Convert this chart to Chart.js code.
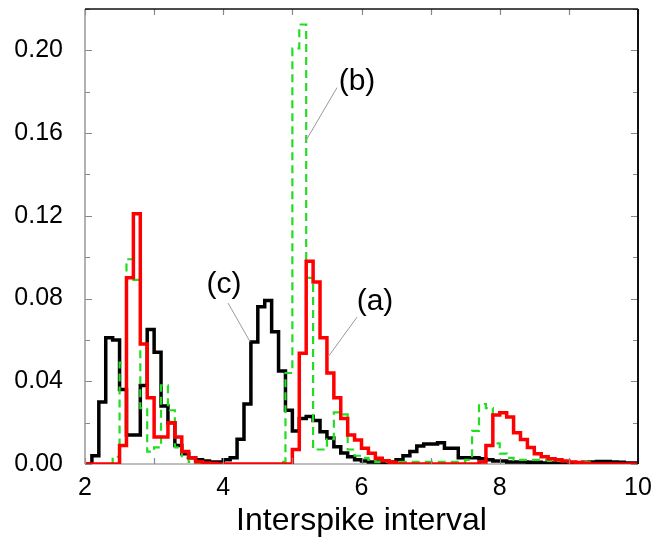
<!DOCTYPE html>
<html>
<head>
<meta charset="utf-8">
<script src="https://cdn.jsdelivr.net/npm/chart.js@4"></script>
<style>
	html, body { margin: 0; padding: 0; background: #fff; }
	#wrap { width: 667px; height: 542px; }
</style>
</head>
<body>
<div id="wrap"><canvas id="isiChart" width="667" height="542"></canvas></div>
<script>
	// histogram bins: lower edges from 2.0 to 9.9, width 0.1
	const binStart = 2.0;
	const binWidth = 0.1;

	// (c) black
	const seriesC = [
		0, 0.004, 0.030, 0.061, 0.060, 0.036, 0.014, 0.014, 0.038, 0.065,
		0.054, 0.028, 0.020, 0.009, 0.005, 0.003, 0.002, 0.0015, 0.001, 0.001,
		0.002, 0.003, 0.012, 0.029, 0.059, 0.076, 0.079, 0.064, 0.045, 0.026,
		0.016, 0.022, 0.023, 0.021, 0.0156, 0.0126, 0.0084, 0.0053, 0.0035, 0.002,
		0.0015, 0.001, 0.001, 0.0008, 0.001, 0.002, 0.004, 0.006, 0.0087, 0.0097,
		0.0097, 0.0103, 0.0076, 0.0076, 0.003, 0.003, 0.003, 0.0025, 0.002, 0.0015,
		0.0015, 0.001, 0.001, 0.001, 0.0008, 0.0008, 0.0005, 0.0005, 0.0005, 0.0005,
		0.0005, 0.0005, 0.0008, 0.001, 0.0012, 0.0012, 0.001, 0.0008, 0.0005, 0.0005
	];

	// (a) red
	const seriesA = [
		0, 0, 0, 0, 0, 0.009, 0.090, 0.121, 0.058, 0.032,
		0.013, 0.013, 0.020, 0.013, 0.006, 0.003, 0.0011, 0.0005, 0.0003, 0,
		0, 0, 0, 0, 0, 0, 0, 0, 0, 0,
		0.007, 0.0535, 0.098, 0.088, 0.061, 0.044, 0.032, 0.022, 0.014, 0.0116,
		0.0076, 0.0052, 0.0028, 0.0016, 0.0008, 0, 0, 0, 0, 0,
		0, 0, 0, 0, 0, 0, 0, 0.001, 0.009, 0.0237,
		0.0248, 0.0227, 0.0151, 0.0119, 0.008, 0.005, 0.0035, 0.0025, 0.002, 0.0015,
		0.001, 0.0007, 0.0004, 0, 0, 0, 0, 0, 0, 0
	];

	// (b) green dashed
	const seriesB = [
		0, 0, 0, 0, 0.0035, 0.049, 0.099, 0.089, 0.027, 0.006,
		0.008, 0.038, 0.026, 0.008, 0.003, 0.001, 0.0005, 0, 0, 0,
		0, 0, 0, 0, 0, 0, 0, 0, 0.001, 0.044,
		0.201, 0.2125, 0.090, 0.007, 0.007, 0.012, 0.025, 0.024, 0.007, 0.004,
		0.003, 0.002, 0.001, 0.001, 0.001, 0.001, 0.001, 0.001, 0.001, 0.001,
		0.001, 0.001, 0.001, 0.001, 0.001, 0.002, 0.016, 0.029, 0.027, 0.010,
		0.005, 0.003, 0.002, 0.002, 0.002, 0.002, 0.002, 0.0015, 0.0015, 0.0015,
		0.001, 0.001, 0.001, 0, 0, 0, 0, 0, 0, 0
	];

	const xTickLabels = ['2', '4', '6', '8', '10'];
	const yTickLabels = ['0.00', '0.04', '0.08', '0.12', '0.16', '0.20'];

	const annotations = [
		{ text: '(c)', x: 4.01, y: 0.0865, from: [4.07, 0.0778], to: [4.39, 0.059] },
		{ text: '(a)', x: 6.195, y: 0.0783, from: [5.935, 0.071], to: [5.515, 0.0517] },
		{ text: '(b)', x: 5.935, y: 0.185, from: [5.646, 0.182], to: [5.183, 0.1556] }
	];

	function toSteps(values) {
		const points = values.map((v, i) => ({ x: +(binStart + i * binWidth).toFixed(1), y: v }));
		points.push({ x: +(binStart + values.length * binWidth).toFixed(1), y: values[values.length - 1] });
		return points;
	}

	const fontFamily = '"Liberation Sans", Arial, Helvetica, sans-serif';

	const framePlugin = {
		id: 'frame',
		beforeDatasetsDraw(chart) {
			const { ctx, chartArea: a } = chart;
			ctx.save();
			ctx.strokeStyle = '#aaa';
			ctx.lineWidth = 1.5;
			ctx.beginPath();
			ctx.moveTo(a.left, a.bottom); ctx.lineTo(a.right, a.bottom);
			ctx.stroke();
			ctx.restore();
		},
		afterDatasetsDraw(chart) {
			const { ctx, chartArea: a, scales } = chart;
			ctx.save();
			// inward ticks
			ctx.strokeStyle = '#888';
			ctx.lineWidth = 1.2;
			for (let v = 0; v <= 0.2201; v += 0.02) {
				const py = Math.round(scales.y.getPixelForValue(v)) + 0.5;
				const major = Math.round(v * 100) % 4 === 0;
				const len = major ? 7 : 5;
				ctx.beginPath();
				ctx.moveTo(a.left, py); ctx.lineTo(a.left + len, py);
				ctx.moveTo(a.right, py); ctx.lineTo(a.right - len, py);
				ctx.stroke();
			}
			for (let v = 2; v <= 10; v += 1) {
				const px = Math.round(scales.x.getPixelForValue(v)) + 0.5;
				ctx.beginPath();
				ctx.moveTo(px, a.top); ctx.lineTo(px, a.top + 6);
				ctx.moveTo(px, a.bottom); ctx.lineTo(px, a.bottom - 6);
				ctx.stroke();
			}
			// frame: left and bottom gray, top and right black
			ctx.lineWidth = 1.5;
			ctx.strokeStyle = '#999';
			ctx.beginPath();
			ctx.moveTo(a.left, a.top); ctx.lineTo(a.left, a.bottom);
			ctx.stroke();
			ctx.strokeStyle = '#111';
			ctx.beginPath();
			ctx.moveTo(a.left, a.top); ctx.lineTo(a.right, a.top);
			ctx.stroke();
			ctx.lineWidth = 2;
			ctx.beginPath();
			ctx.moveTo(a.right, a.top); ctx.lineTo(a.right, a.bottom);
			ctx.stroke();

			// annotations
			ctx.font = '30px ' + fontFamily;
			ctx.fillStyle = '#000';
			ctx.textAlign = 'center';
			ctx.textBaseline = 'middle';
			annotations.forEach((n) => {
				ctx.fillText(n.text, scales.x.getPixelForValue(n.x), scales.y.getPixelForValue(n.y));
				ctx.strokeStyle = '#999';
				ctx.lineWidth = 1;
				ctx.beginPath();
				ctx.moveTo(scales.x.getPixelForValue(n.from[0]), scales.y.getPixelForValue(n.from[1]));
				ctx.lineTo(scales.x.getPixelForValue(n.to[0]), scales.y.getPixelForValue(n.to[1]));
				ctx.stroke();
			});
			ctx.restore();
		}
	};

	new Chart(document.getElementById('isiChart'), {
		type: 'line',
		data: {
			datasets: [
				{
					label: '(a)',
					data: toSteps(seriesA),
					stepped: 'before',
					borderColor: '#ff0000',
					borderWidth: 3.5,
					pointRadius: 0,
					fill: false
				},
				{
					label: '(b)',
					data: toSteps(seriesB),
					stepped: 'before',
					borderColor: '#22dd22',
					borderWidth: 2.2,
					borderDash: [8, 5],
					pointRadius: 0,
					fill: false
				},
				{
					label: '(c)',
					data: toSteps(seriesC),
					stepped: 'before',
					borderColor: '#000',
					borderWidth: 3.5,
					pointRadius: 0,
					fill: false
				}
			]
		},
		options: {
			responsive: false,
			animation: false,
			layout: { padding: { top: 9, right: 29, left: 0, bottom: 0 } },
			plugins: {
				legend: { display: false },
				tooltip: { enabled: false }
			},
			scales: {
				x: {
					type: 'linear',
					min: 2,
					max: 10,
					afterFit: (scale) => {
						scale.height = 78;
						scale.paddingLeft = 0;
						scale.paddingRight = 0;
					},
					afterBuildTicks: (scale) => {
						scale.ticks = xTickLabels.map((t) => ({ value: Number(t) }));
					},
					grid: { display: false, drawTicks: false },
					border: { display: false },
					ticks: {
						padding: 9,
						color: '#000',
						font: { family: fontFamily, size: 25 },
						maxRotation: 0,
						callback: (value) => String(value)
					},
					title: {
						display: true,
						text: 'Interspike interval',
						color: '#000',
						font: { family: fontFamily, size: 32 },
						padding: { top: 0, bottom: 2 }
					}
				},
				y: {
					min: 0,
					max: 0.22,
					afterFit: (scale) => {
						scale.width = 85;
						scale.paddingTop = 0;
						scale.paddingBottom = 0;
					},
					afterBuildTicks: (scale) => {
						scale.ticks = yTickLabels.map((t) => ({ value: Number(t) }));
					},
					grid: { display: false, drawTicks: false },
					border: { display: false },
					ticks: {
						padding: 22,
						color: '#000',
						font: { family: fontFamily, size: 25 },
						callback: (value) => value.toFixed(2)
					}
				}
			}
		},
		plugins: [framePlugin]
	});
</script>
</body>
</html>
